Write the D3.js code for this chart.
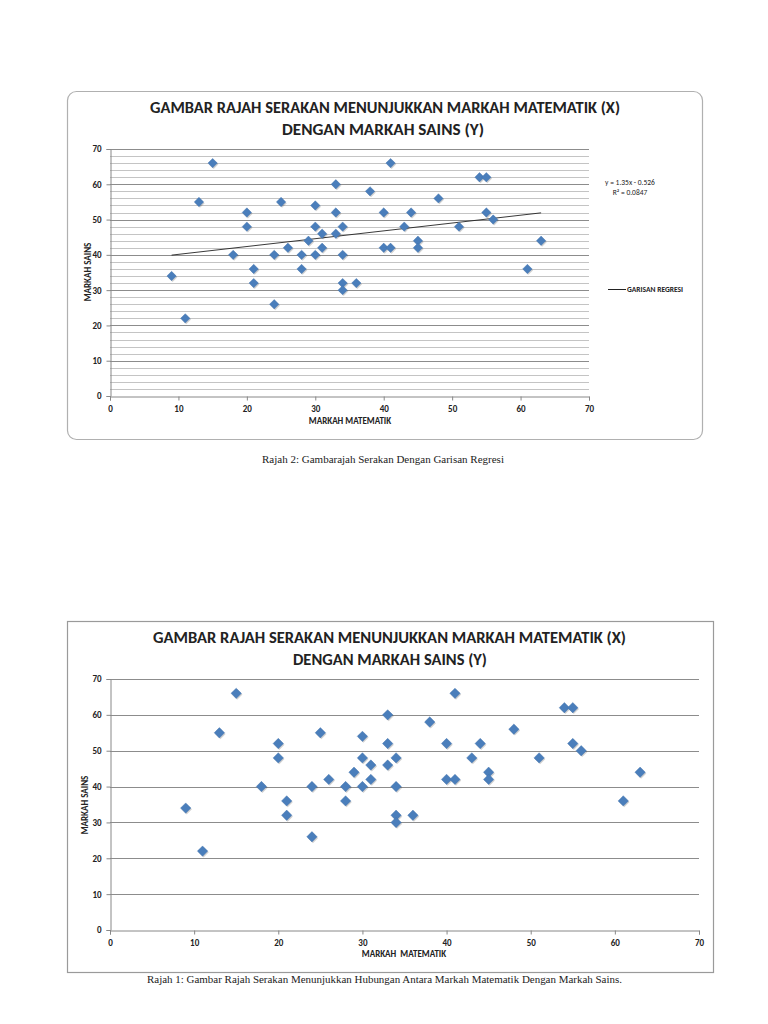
<!DOCTYPE html>
<html><head><meta charset="utf-8">
<script src="https://cdn.jsdelivr.net/npm/d3@7"></script>
<style>
html,body{margin:0;padding:0;background:#fff;}
svg{display:block;}
</style></head>
<body>
<svg id="c" width="768" height="1024"></svg>
<script>
// ---- data ----
const markahMatematik = [9,11,13,15,18,20,20,21,21,24,24,25,26,28,28,29,30,30,30,31,31,33,33,33,34,34,34,34,36,38,40,40,41,41,43,44,45,45,48,51,54,55,55,56,61,63];
const markahSains     = [34,22,55,66,40,52,48,36,32,26,40,55,42,40,36,44,54,48,40,46,42,60,52,46,48,40,32,30,32,58,52,42,42,66,48,52,44,42,56,48,62,62,52,50,36,44];
const xTicks = [0,10,20,30,40,50,60,70];
const yTicks = [0,10,20,30,40,50,60,70];
const titleLines = ["GAMBAR RAJAH SERAKAN MENUNJUKKAN MARKAH MATEMATIK (X)", "DENGAN MARKAH SAINS (Y)"];
const yAxisTitle = "MARKAH SAINS";
const xAxisTitle1 = "MARKAH MATEMATIK";
const xAxisTitle2 = "MARKAH  MATEMATIK";
const equationText = "y = 1.35x - 0.526";
const r2Text = "R² = 0.0847";
const legendText = "GARISAN REGRESI";
const caption1 = "Rajah 2: Gambarajah Serakan Dengan Garisan Regresi";
const caption2 = "Rajah 1: Gambar Rajah Serakan Menunjukkan Hubungan Antara Markah Matematik Dengan Markah Sains.";

const points = markahMatematik.map((x,i)=>({x, y: markahSains[i]}));
const svg = d3.select("#c");
const FONT = "Carlito, 'Open Sans', 'Liberation Sans', sans-serif";
const BLUE = "#4a7ebb";

// least squares regression from the data
const mx = d3.mean(markahMatematik), my = d3.mean(markahSains);
const slope = d3.sum(points, p=>(p.x-mx)*(p.y-my)) / d3.sum(points, p=>(p.x-mx)*(p.x-mx));
const intercept = my - slope*mx;

function chart(o){
  const g = svg.append("g");
  g.append("rect").attr("x",o.box[0]+0.5).attr("y",o.box[1]+0.5)
    .attr("width",o.box[2]-o.box[0]).attr("height",o.box[3]-o.box[1])
    .attr("rx",o.rounded?9:0).attr("fill","#fff").attr("stroke",o.rounded?"#b0b0b0":"#9a9a9a").attr("stroke-width",1.2);
  o.titleY.forEach((ty,i)=>{
    g.append("text").attr("x",o.titleX[i][0]).attr("y",ty).text(titleLines[i])
      .attr("font-family",FONT).attr("font-weight","bold").attr("font-size",15).attr("fill","#222")
      .attr("textLength",o.titleX[i][1]-o.titleX[i][0]).attr("lengthAdjust","spacingAndGlyphs");
  });
  const x = d3.scaleLinear().domain([0,70]).range([o.plot[0],o.plot[2]]);
  const y = d3.scaleLinear().domain([0,70]).range([o.plot[3],o.plot[1]]);
  if(o.minor){
    g.append("g").selectAll("line").data(d3.range(0,71,2).filter(v=>v%10!==0)).join("line")
      .attr("x1",o.plot[0]).attr("x2",o.plot[2]).attr("y1",d=>Math.round(y(d))+0.5).attr("y2",d=>Math.round(y(d))+0.5)
      .attr("stroke","#c4c4c4").attr("stroke-width",1);
  }
  g.append("g").selectAll("line").data(yTicks.filter(v=>v>0)).join("line")
    .attr("x1",o.plot[0]).attr("x2",o.plot[2]).attr("y1",d=>Math.round(y(d))+0.5).attr("y2",d=>Math.round(y(d))+0.5)
    .attr("stroke","#8c8c8c").attr("stroke-width",1);
  const xa = g.append("g").attr("transform",`translate(0,${Math.round(y(0))+0.5})`)
    .call(d3.axisBottom(x).tickValues(xTicks).tickSize(4).tickPadding(5));
  const ya = g.append("g").attr("transform",`translate(${Math.round(x(0))+0.5},0)`)
    .call(d3.axisLeft(y).tickValues(yTicks).tickSize(4).tickPadding(5));
  [xa,ya].forEach(a=>{
    a.select(".domain").attr("stroke","#888");
    a.selectAll(".tick line").attr("stroke","#888");
    a.selectAll("text").attr("font-family",FONT).attr("font-weight","bold").attr("font-size",9).attr("fill","#222");
  });
  g.append("text").attr("transform",`translate(${o.yTitle[0]},${o.yTitle[1]}) rotate(-90)`).attr("text-anchor","middle")
    .text(yAxisTitle).attr("font-family",FONT).attr("font-weight","bold").attr("font-size",9).attr("fill","#222");
  g.append("text").attr("x",o.xTitle[0]).attr("y",o.xTitle[1]).attr("text-anchor","middle").style("white-space","pre")
    .text(o.xTitleText).attr("font-family",FONT).attr("font-weight","bold").attr("font-size",9).attr("fill","#222");
  if(o.trend){
    const xs = d3.extent(markahMatematik);
    g.append("line").attr("x1",x(xs[0])).attr("y1",y(slope*xs[0]+intercept))
      .attr("x2",x(xs[1])).attr("y2",y(slope*xs[1]+intercept)).attr("stroke","#222").attr("stroke-width",0.9);
  }
  const s = o.mk;
  const diamond = `M0,${-s}L${s},0L0,${s}L${-s},0Z`;
  g.append("g").selectAll("path.sh").data(points).join("path")
    .attr("d",diamond).attr("transform",d=>`translate(${x(d.x)+1},${y(d.y)+1.2})`).attr("fill","rgba(0,0,0,0.18)");
  g.append("g").selectAll("path.pt").data(points).join("path")
    .attr("d",diamond).attr("transform",d=>`translate(${x(d.x)},${y(d.y)})`).attr("fill",BLUE).attr("stroke","#3f6fa8").attr("stroke-width",0.4);
  return g;
}

const g1 = chart({box:[67,91,702,439], rounded:true, titleY:[113,135], titleX:[[150,620],[282,484]],
  plot:[110,149,589,396], minor:true, yTitle:[91,272], xTitle:[350,424], xTitleText:xAxisTitle1, trend:true, mk:4.7});
g1.append("text").attr("x",630).attr("y",185).attr("text-anchor","middle").text(equationText)
  .attr("font-family",FONT).attr("font-size",7.5).attr("fill","#222");
g1.append("text").attr("x",630).attr("y",195).attr("text-anchor","middle").text(r2Text)
  .attr("font-family",FONT).attr("font-size",7.5).attr("fill","#222");
g1.append("line").attr("x1",608).attr("x2",626).attr("y1",289.5).attr("y2",289.5).attr("stroke","#222").attr("stroke-width",1);
g1.append("text").attr("x",627).attr("y",292).text(legendText)
  .attr("font-family",FONT).attr("font-weight","bold").attr("font-size",7.5).attr("fill","#222");

chart({box:[67,621,713,972], rounded:false, titleY:[643,665], titleX:[[153,626],[293,487]],
  plot:[110,679,699,930], minor:false, yTitle:[88,805], xTitle:[404,957], xTitleText:xAxisTitle2, trend:false, mk:5.2});

svg.append("text").attr("x",383).attr("y",463).attr("text-anchor","middle").text(caption1)
  .attr("font-family","'Liberation Serif','Times New Roman',serif").attr("font-size",11).attr("fill","#222");
svg.append("text").attr("x",147).attr("y",983).text(caption2)
  .attr("font-family","'Liberation Serif','Times New Roman',serif").attr("font-size",11).attr("fill","#222")
  .attr("textLength",475).attr("lengthAdjust","spacingAndGlyphs");
</script>
</body></html>
